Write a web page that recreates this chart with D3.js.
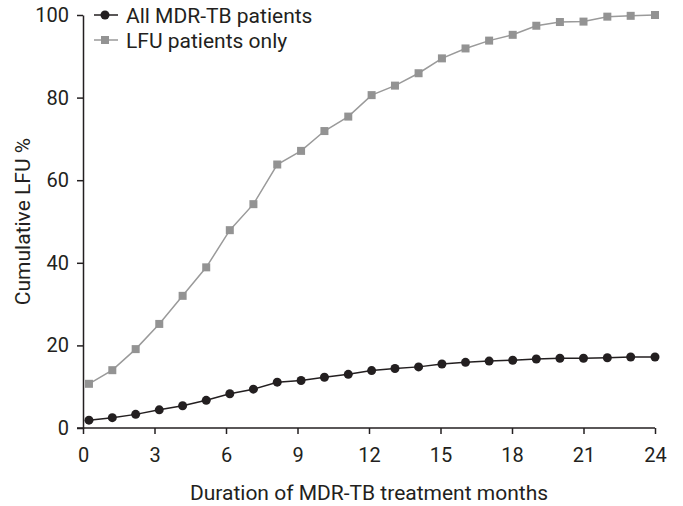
<!DOCTYPE html>
<html>
<head>
<meta charset="utf-8">
<script src="https://cdn.jsdelivr.net/npm/d3@7"></script>
<style>
  body { margin: 0; background: #fff; }
  text { font-family: Roboto, "Liberation Sans", sans-serif; fill: #231f20; }
</style>
</head>
<body>
<div id="chart"></div>
<script>
var months = [0.25, 1.23, 2.21, 3.2, 4.18, 5.17, 6.16, 7.15, 8.15, 9.15, 10.13, 11.13,
	      12.11, 13.09, 14.08, 15.06, 16.05, 17.04, 18.03, 19.02, 20.01, 21.0, 22.0, 22.98, 24.0];
var allPatients = [1.9, 2.5, 3.3, 4.4, 5.4, 6.7, 8.3, 9.4, 11.1, 11.5, 12.3, 13.0,
		   13.9, 14.4, 14.8, 15.5, 15.9, 16.2, 16.4, 16.7, 16.9, 16.9, 17.0, 17.2, 17.2];
var lfuOnly = [10.7, 14.0, 19.1, 25.2, 32.0, 38.9, 47.9, 54.2, 63.8, 67.1, 71.9, 75.4,
	       80.6, 82.9, 85.9, 89.5, 91.9, 93.8, 95.2, 97.4, 98.3, 98.4, 99.6, 99.8, 100];
var xTicks = [0, 3, 6, 9, 12, 15, 18, 21, 24];
var yTicks = [0, 20, 40, 60, 80, 100];
var seriesNames = ["All MDR-TB patients", "LFU patients only"];

var margin = {top: 15, right: 28, bottom: 78, left: 83},
    width = 683 - margin.left - margin.right,
    height = 506 - margin.top - margin.bottom;

var svg = d3.select("#chart").append("svg")
    .attr("width", 683)
    .attr("height", 506);

var plot = svg.append("g")
    .attr("transform", "translate(" + margin.left + "," + margin.top + ")");

var x = d3.scaleLinear().domain([0, 24]).range([0, width]);
var y = d3.scaleLinear().domain([0, 100]).range([height, 0]);

var xAxis = plot.append("g")
    .attr("transform", "translate(0," + height + ")")
    .call(d3.axisBottom(x).tickValues(xTicks).tickSize(6).tickPadding(14).tickSizeOuter(0));

var yAxis = plot.append("g")
    .call(d3.axisLeft(y).tickValues(yTicks).tickSize(6).tickPadding(8).tickSizeOuter(0));

[xAxis, yAxis].forEach(function(a) {
    a.select(".domain").attr("stroke", "#231f20").attr("stroke-width", 1.5);
    a.selectAll(".tick line").attr("stroke", "#231f20").attr("stroke-width", 1.5);
    a.selectAll(".tick text").style("font-size", "20px").attr("fill", "#231f20");
});
// the x axis runs out to the left under the 0 tick of the y axis
xAxis.select(".domain").attr("d", "M-6,0H" + width);

svg.append("text")
    .attr("x", margin.left + width / 2)
    .attr("y", 500)
    .style("text-anchor", "middle")
    .style("font-size", "21px")
    .text("Duration of MDR-TB treatment months");

svg.append("text")
    .attr("transform", "rotate(-90)")
    .attr("x", -(margin.top + height / 2))
    .attr("y", 30)
    .style("text-anchor", "middle")
    .style("font-size", "21px")
    .text("Cumulative LFU %");

var line = d3.line()
    .x(function(d) { return x(d[0]); })
    .y(function(d) { return y(d[1]); });

var lfuData = months.map(function(m, i) { return [m, lfuOnly[i]]; });
var allData = months.map(function(m, i) { return [m, allPatients[i]]; });

plot.append("path")
    .datum(lfuData)
    .attr("d", line)
    .attr("fill", "none")
    .attr("stroke", "#9a9a9a")
    .attr("stroke-width", 1.5);

plot.append("g").selectAll("rect").data(lfuData).enter()
    .append("rect")
    .attr("x", function(d) { return x(d[0]) - 4; })
    .attr("y", function(d) { return y(d[1]) - 4; })
    .attr("width", 8)
    .attr("height", 8)
    .attr("fill", "#939393");

plot.append("path")
    .datum(allData)
    .attr("d", line)
    .attr("fill", "none")
    .attr("stroke", "#231f20")
    .attr("stroke-width", 1.5);

plot.append("g").selectAll("circle").data(allData).enter()
    .append("circle")
    .attr("cx", function(d) { return x(d[0]); })
    .attr("cy", function(d) { return y(d[1]); })
    .attr("r", 4.5)
    .attr("fill", "#231f20");

// legend
var legend = svg.append("g").attr("transform", "translate(94,15)");
var colors = ["#231f20", "#9a9a9a"];
seriesNames.forEach(function(name, i) {
    var row = legend.append("g").attr("transform", "translate(0," + (i * 25) + ")");
    row.append("line")
	.attr("x1", 0).attr("x2", 24)
	.attr("stroke", colors[i])
	.attr("stroke-width", 1.5);
    if (i == 0) {
	row.append("circle").attr("cx", 11).attr("r", 4.5).attr("fill", colors[i]);
    } else {
	row.append("rect").attr("x", 7).attr("y", -4).attr("width", 8).attr("height", 8).attr("fill", "#939393");
    }
    row.append("text")
	.attr("x", 32)
	.attr("y", 8)
	.style("font-size", "21px")
	.text(name);
});
</script>
</body>
</html>
